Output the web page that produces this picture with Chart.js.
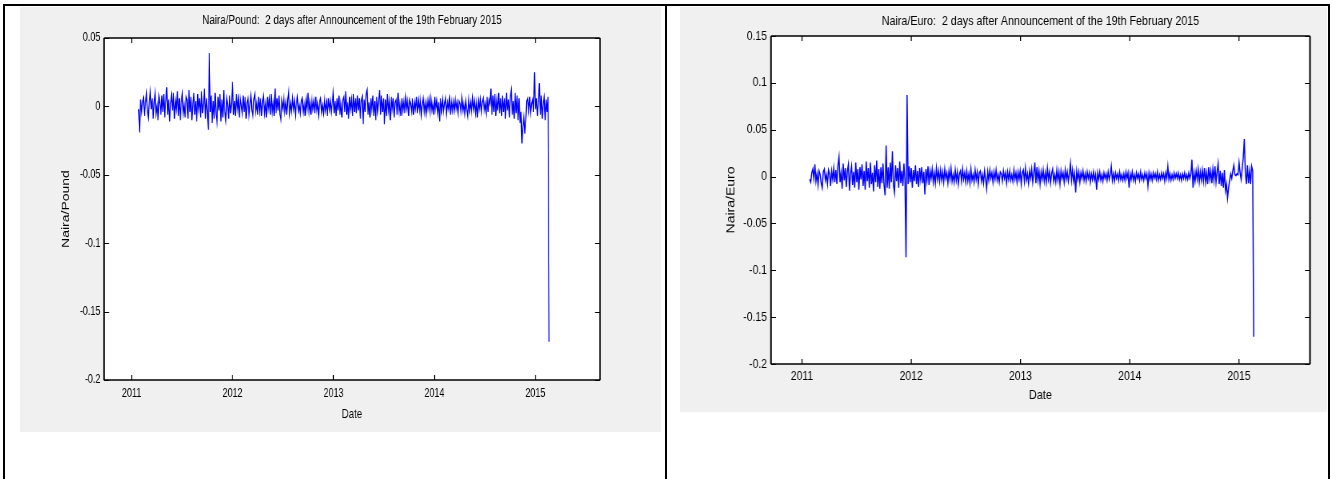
<!DOCTYPE html>
<html>
<head>
<meta charset="utf-8">
<title>Naira exchange rate returns</title>
<script src="https://cdn.jsdelivr.net/npm/chart.js@4.4.1/dist/chart.umd.min.js"></script>
<style>
  body { margin: 0; background: #fff; width: 1333px; height: 479px; position: relative; overflow: hidden; }
  .rule { position: absolute; background: #000; }
  .panel { position: absolute; background: #f0f0f0; overflow: hidden; }
  .panel canvas { position: absolute; left: 0; top: 0; transform-origin: 0 0; }
</style>
</head>
<body>
<div class="rule" style="left:3px;top:4px;width:1327px;height:2px"></div>
<div class="rule" style="left:3px;top:4px;width:2px;height:475px"></div>
<div class="rule" style="left:665px;top:4px;width:2px;height:475px"></div>
<div class="rule" style="left:1328px;top:4px;width:2px;height:475px"></div>

<div class="panel" style="left:20px;top:7px;width:641px;height:425px"><canvas id="poundChart"></canvas></div>
<div class="panel" style="left:680px;top:7px;width:647px;height:405px"><canvas id="euroChart"></canvas></div>

<script>
// twice-weekly returns, early Feb 2011 -> 19 Feb 2015 (decimal years)
const firstObs = 2011.07;
const lastObs = 2015.135;

const yearTicks = [2011, 2012, 2013, 2014, 2015];
const poundTicks = [-0.2, -0.15, -0.1, -0.05, 0, 0.05];
const euroTicks = [-0.2, -0.15, -0.1, -0.05, 0, 0.05, 0.1, 0.15];

// Naira/Pound, one row ~ one quarter
const poundValues = [
  -.002, -.019, .005, -.004, .003, .006, -.007, .002, .009, -.003, -.008, .004, .011, -.002, .006, -.009, .003, .010, -.005, .001, -.010, .007, .002, -.006, .008,
  -.004, .009, -.008, .003, .014, -.006, .005, -.011, .002, .008, -.003, .010, -.009, .004, -.002, .011, -.007, .006, -.010, .003, .009, -.005, .001, -.008, .007,
  .005, -.009, .012, -.004, .007, -.010, .002, .010, -.006, .004, -.011, .009, -.002, .006, -.008, .011, -.005, .003, .013, -.009, .006, -.003, -.017, .039, -.004,
  .008, -.012, .004, -.009, .010, -.006, -.012, .007, -.003, .009, -.011, .005, -.008, .012, -.004, -.010, .006, .002, -.009, .008, -.005, .003, .018, -.006, .004,
  -.007, .009, -.002, .005, -.008, .006, .001, -.005, .008, -.004, .007, -.009, .003, .006, -.006, .002, .008, -.003, -.007, .005, .009, -.004, .002, -.006, .007,
  -.003, .006, -.007, .004, .008, -.005, .002, -.008, .007, -.002, .005, -.006, .009, -.004, .003, -.007, .013, -.005, .006, -.003, .008, -.006, -.010, .004, -.002,
  .006, -.004, .003, -.006, .005, .011, -.005, .002, -.004, .006, -.002, .004, -.006, .003, .007, -.003, .001, -.005, .004, .006, -.004, .002, -.007, .005, -.002,
  .010, -.004, .003, -.006, .005, -.002, .004, -.005, .007, -.003, .002, -.006, .004, .006, -.004, .001, -.005, .005, -.003, .003, -.007, .006, -.002, .004, -.004,
  .003, .010, -.005, .004, -.007, .006, -.003, .008, -.006, .002, -.008, .005, .007, -.004, .011, -.006, .003, -.009, .007, -.002, .005, -.007, .009, -.004, .006,
  -.005, .008, -.003, .006, -.009, .004, .007, -.013, .005, -.004, .009, .012, -.006, .003, -.008, .006, -.002, .008, -.007, .004, -.010, .007, -.003, .005, .012,
  -.006, .008, -.004, .006, -.013, .005, -.007, .009, -.003, .004, -.010, .007, -.002, .006, -.008, .003, .005, -.006, .010, -.004, .002, -.007, .006, -.003, .004,
  -.005, .006, -.002, .004, -.007, .005, .002, -.004, .006, -.006, .003, -.002, .007, -.005, .004, -.003, .005, -.006, .002, .006, -.004, .003, -.005, .004, -.002,
  .005, -.004, .006, -.003, .002, -.006, .007, -.002, .004, -.005, .003, -.011, .006, -.003, .005, -.004, .002, .006, -.005, .003, -.002, .005, -.006, .004, -.003,
  .004, -.003, .005, -.002, .003, -.005, .004, .002, -.004, .006, -.003, .002, -.005, .004, -.002, -.007, .005, -.003, .003, -.004, .006, -.002, .004, -.005, .003,
  -.008, .004, -.002, .005, -.004, .003, .006, -.003, .002, -.005, .007, -.004, .005, .002, .013, -.006, .008, -.004, .009, -.007, .005, -.003, .010, -.005, .006,
  -.007, .008, -.004, .006, -.009, .010, -.003, .005, -.008, .007, .012, -.006, .004, -.009, .010, -.005, .008, -.010, .006, -.012, -.004, -.027, -.015, -.008, -.020,
  -.010, .004, .006, -.003, .007, -.005, .002, .005, -.004, .025, -.002, .006, -.007, .004, .017, -.006, .008, -.009, .003, .007, -.010, .005, -.004, .007, -.172
];

// Naira/Euro
const euroValues = [
  -.003, -.006, .004, .008, -.002, .013, -.005, .003, -.009, .006, .002, -.007, -.012, .005, .008, -.004, .002, -.008, .007, .003, -.010, .006, -.003, .009, -.006,
  .007, -.008, .012, .021, -.006, .004, -.013, .014, -.004, .009, -.011, .006, .013, -.015, .003, .011, -.009, .005, -.012, .015, -.006, .008, -.014, .010, -.003,
  .013, -.010, .006, -.014, .016, -.005, .009, -.012, .015, -.008, .004, -.016, .012, -.006, .017, -.011, .008, -.013, .010, -.007, .014, -.009, -.020, .033, -.012,
  .010, -.013, .015, -.006, .027, -.009, -.017, .012, -.005, .009, -.012, .016, -.007, .006, -.010, .014, -.004, -.086, .087, -.008, .011, -.006, .009, -.012, .007,
  -.005, .012, -.008, .006, -.011, .009, -.003, .010, -.007, .005, -.019, .008, -.004, .011, -.009, .006, -.002, .008, -.006, .004, -.007, .009, -.003, .006, -.005,
  .007, -.004, .005, -.006, .008, -.002, .004, -.007, .006, -.003, .009, -.005, .002, -.006, .007, -.004, .005, -.008, .003, .006, -.005, .008, -.003, .004, -.006,
  .006, -.005, .003, -.007, .008, -.004, .002, -.006, .007, -.003, .005, -.008, .004, .006, -.005, .002, -.007, .006, -.003, -.013, .005, -.004, .007, -.002, .004,
  -.006, .005, -.003, .007, -.004, .002, -.006, .005, .003, -.005, .006, -.002, .004, -.007, .005, -.003, .006, -.004, .002, -.005, .007, -.003, .004, -.006, .005,
  -.003, .006, -.008, .004, .007, -.005, .009, -.004, .003, -.007, .006, -.002, .008, -.006, .004, .015, -.007, .010, -.004, .006, -.008, .005, -.003, .007, -.005,
  .004, -.006, .009, -.003, .005, -.007, .003, .008, -.005, .002, -.006, .007, -.004, .005, -.008, .006, -.002, .004, -.006, .007, -.003, .005, -.005, .003, .014,
  -.004, .007, -.005, .003, -.017, .006, -.003, .005, -.006, .004, -.002, .006, -.004, .003, -.005, .005, -.002, .004, -.006, .003, -.003, .005, -.004, .002, -.014,
  .004, -.003, .005, -.004, .002, -.005, .004, -.002, .003, -.004, .005, -.003, .002, .011, -.004, .003, -.005, .004, -.002, .003, -.004, .005, -.003, .002, -.004,
  .003, -.004, .005, -.002, .004, -.012, .003, -.003, .005, -.004, .002, -.005, .004, -.002, .003, -.004, .005, -.003, .002, -.004, .004, -.002, .003, -.010, .004,
  -.003, .003, -.004, .004, -.002, .003, -.003, .005, -.004, .002, -.003, .004, -.002, .003, -.005, .004, -.002, .011, -.003, .003, -.004, .002, -.003, .004, -.002,
  .003, -.002, .004, -.003, .002, -.004, .003, -.002, .004, -.003, .002, -.003, .004, -.002, .003, .018, -.012, .004, -.005, .006, -.003, .008, -.006, .005, -.004,
  .007, -.005, .009, -.006, .004, -.008, .010, -.003, .006, -.007, .008, -.004, .011, -.006, .005, .014, -.008, .006, -.010, .004, -.012, .007, -.015, -.008, -.023,
  -.012, -.004, .003, -.002, .006, .012, .002, .001, .003, .002, .015, .004, -.003, .009, .020, .040, .004, -.008, .012, -.007, .006, -.008, .011, .006, -.171
];

const fontFamily = "'Liberation Sans', Arial, sans-serif";

function toPoints(values) {
  var step = (lastObs - firstObs) / (values.length - 1);
  return values.map(function (v, i) {
    return { x: firstObs + i * step, y: v };
  });
}

// white axes box, black frame and inward ticks like the matlab figure
const matlabFrame = {
  id: 'matlabFrame',
  beforeDraw(chart) {
    const ctx = chart.ctx, a = chart.chartArea;
    ctx.save();
    ctx.fillStyle = '#ffffff';
    ctx.fillRect(a.left, a.top, a.right - a.left, a.bottom - a.top);
    ctx.restore();
  },
  afterDraw(chart, args, opts) {
    const ctx = chart.ctx, a = chart.chartArea;
    const sx = opts.squeeze || 1;
    const xs = chart.scales.x, ys = chart.scales.y;
    ctx.save();
    ctx.strokeStyle = '#000';
    ctx.lineWidth = 1 / sx;
    ctx.beginPath();
    xs.ticks.forEach(function (t) {
      const px = xs.getPixelForValue(t.value);
      ctx.moveTo(px, a.bottom); ctx.lineTo(px, a.bottom - 5);
      ctx.moveTo(px, a.top); ctx.lineTo(px, a.top + 5);
    });
    ctx.stroke();
    ctx.lineWidth = 1;
    ctx.beginPath();
    ys.ticks.forEach(function (t) {
      const py = Math.round(ys.getPixelForValue(t.value)) + 0.5;
      ctx.moveTo(a.left, py); ctx.lineTo(a.left + 5 / sx, py);
      ctx.moveTo(a.right, py); ctx.lineTo(a.right - 5 / sx, py);
    });
    ctx.stroke();
    ctx.lineWidth = 1.6;
    ctx.beginPath();
    ctx.moveTo(a.left, a.top); ctx.lineTo(a.right, a.top);
    ctx.moveTo(a.left, a.bottom); ctx.lineTo(a.right, a.bottom);
    ctx.stroke();
    ctx.lineWidth = 1.6 / sx;
    ctx.beginPath();
    ctx.moveTo(a.left, a.top); ctx.lineTo(a.left, a.bottom);
    ctx.moveTo(a.right, a.top); ctx.lineTo(a.right, a.bottom);
    ctx.stroke();
    ctx.restore();
  }
};

function makeChart(id, s) {
  const canvas = document.getElementById(id);
  const w = Math.round(s.boxW / s.squeeze);
  canvas.width = w;
  canvas.height = s.boxH;
  canvas.style.transform = 'scaleX(' + s.squeeze + ')';

  return new Chart(canvas.getContext('2d'), {
    type: 'line',
    data: {
      datasets: [{
        data: toPoints(s.values),
        borderColor: '#0000ff',
        borderWidth: 1.45,
        pointRadius: 0,
        tension: 0,
        fill: false
      }]
    },
    options: {
      responsive: false,
      animation: false,
      devicePixelRatio: 1,
      layout: {
        padding: { top: s.padTop, right: w - s.plotRight / s.squeeze, bottom: 0, left: 0 }
      },
      plugins: {
        legend: { display: false },
        tooltip: { enabled: false },
        title: {
          display: true,
          text: s.title,
          fullSize: false,
          color: '#000',
          font: { family: fontFamily, size: s.titleSize, weight: 'normal', lineHeight: 1.2 },
          padding: { top: 0, bottom: s.titleGap }
        },
        matlabFrame: { squeeze: s.squeeze }
      },
      scales: {
        x: {
          type: 'linear',
          min: s.xMin,
          max: s.xMax,
          afterBuildTicks: function (scale) {
            scale.ticks = yearTicks.map(function (v) { return { value: v }; });
          },
          afterFit: function (scale) { scale.height = s.boxH - s.plotBottom; },
          grid: { display: false, drawTicks: false },
          border: { display: false },
          ticks: {
            autoSkip: false,
            maxRotation: 0,
            padding: s.xTickPad,
            color: '#000',
            font: { family: fontFamily, size: s.tickSize },
            callback: function (v) { return String(v); }
          },
          title: {
            display: true,
            text: 'Date',
            color: '#000',
            font: { family: fontFamily, size: 13.5 },
            padding: { top: 0, bottom: s.dateGap }
          }
        },
        y: {
          min: -0.2,
          max: s.yMax,
          afterBuildTicks: function (scale) {
            scale.ticks = s.yTicks.map(function (v) { return { value: v }; });
          },
          afterFit: function (scale) { scale.width = s.plotLeft / s.squeeze; },
          grid: { display: false, drawTicks: false },
          border: { display: false },
          ticks: {
            padding: 5,
            color: '#000',
            font: { family: fontFamily, size: s.tickSize },
            callback: function (v) { return String(+v.toFixed(2)); }
          },
          title: {
            display: true,
            text: s.yLabel,
            color: '#000',
            font: { family: fontFamily, size: 14 },
            padding: { top: 55.5, bottom: 0 }
          }
        }
      }
    },
    plugins: [matlabFrame]
  });
}

makeChart('poundChart', {
  values: poundValues,
  title: 'Naira/Pound:  2 days after Announcement of the 19th February 2015',
  yLabel: 'Naira/Pound',
  yTicks: poundTicks,
  yMax: 0.05,
  xMin: 2010.727,
  xMax: 2015.64,
  squeeze: 0.72,
  boxW: 641, boxH: 425,
  plotLeft: 84, plotRight: 580, plotBottom: 373,
  padTop: 5, titleGap: 9.6, titleSize: 13.7,
  tickSize: 12.5, xTickPad: 6, dateGap: 10
});

makeChart('euroChart', {
  values: euroValues,
  title: 'Naira/Euro:  2 days after Announcement of the 19th February 2015',
  yLabel: 'Naira/Euro',
  yTicks: euroTicks,
  yMax: 0.15,
  xMin: 2010.716,
  xMax: 2015.65,
  squeeze: 0.8,
  boxW: 647, boxH: 405,
  plotLeft: 91, plotRight: 630, plotBottom: 357,
  padTop: 6, titleGap: 6.9, titleSize: 13.4,
  tickSize: 13, xTickPad: 5, dateGap: 9
});
</script>
</body>
</html>
